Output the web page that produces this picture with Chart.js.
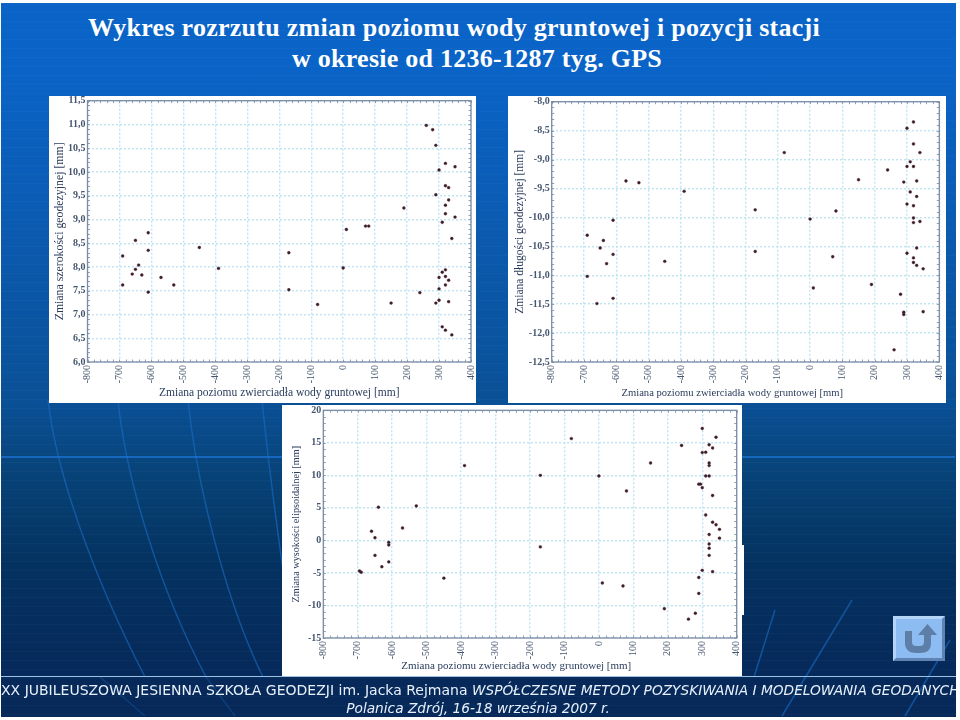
<!DOCTYPE html>
<html lang="pl">
<head>
<meta charset="utf-8">
<title>Wykres rozrzutu</title>
<script src="https://cdn.jsdelivr.net/npm/chart.js@4"></script>
<style>
html,body{margin:0;padding:0;background:#fff;width:960px;height:720px;overflow:hidden}
#slide{position:absolute;left:1px;top:3px;width:955px;height:714px;overflow:hidden;
 background:linear-gradient(180deg,#0a63c6 0,#0a63c6 70px,#0b5cb4 200px,#0a5096 400px,#074378 470px,#043260 560px,#06295a 680px,#06295a 714px)}
#stripes{position:absolute;left:0;top:0;width:955px;height:714px;
 background:repeating-linear-gradient(180deg,rgba(255,255,255,.025) 0,rgba(255,255,255,.025) 1px,rgba(0,0,0,0) 1px,rgba(0,0,0,0) 9px)}
svg{position:absolute;left:0;top:0}
.abs{position:absolute}
h1{position:absolute;margin:0;color:#fff;font:700 26px/31px "Liberation Serif",serif;white-space:nowrap}
.panel{position:absolute;background:#fff}
.panel canvas{display:block;filter:blur(.45px)}
.foot{position:absolute;color:#e8f1fb;font:14px/18px "DejaVu Sans",sans-serif;white-space:nowrap}
.foot i{font-size:13.72px}
</style>
</head>
<body>
<div id="slide">
 <div id="stripes"></div>
 <svg width="955" height="714" viewBox="1 3 955 714" fill="none" stroke="#1b6cc4" stroke-opacity=".6" stroke-width="1.5">
  <path d="M48 400 C56 470 90 570 145 677"/>
  <path d="M118 400 C126 480 160 590 206 677"/>
  <path d="M188 400 C196 480 225 600 263 677"/>
  <path d="M262 400 C268 460 276 520 283 570"/>
  <path d="M775 610 L754 677"/>
  <path d="M852 600 L782 716"/>
  <path d="M950 640 L905 716"/>
  <path d="M100 677 L145 716" stroke-opacity=".3"/>
  <path d="M206 677 L235 716" stroke-opacity=".3"/>
  <path d="M0 457 L955 457" stroke="#1f78de" stroke-opacity=".9"/>
 </svg>
</div>

<h1 id="t1" style="left:88px;top:12px">Wykres rozrzutu zmian poziomu wody gruntowej i pozycji stacji</h1>
<h1 id="t2" style="left:292px;top:43px">w okresie od 1236-1287 tyg. GPS</h1>

<div class="panel" style="left:49px;top:96px;width:427px;height:307px"><canvas id="c1" width="427" height="307"></canvas></div>
<div class="panel" style="left:508px;top:96px;width:438px;height:307px"><canvas id="c2" width="438" height="307"></canvas></div>
<div class="panel" style="left:282px;top:405px;width:460px;height:271px"><canvas id="c3" width="460" height="271"></canvas></div>
<div class="panel" style="left:742px;top:545px;width:2px;height:70px"></div>

<div class="abs" style="left:1px;top:676px;width:955px;height:1px;background:#9dc3e6"></div>

<svg class="abs" style="left:892px;top:615px" width="54" height="47" viewBox="0 0 54 47">
 <rect x="1" y="1" width="52" height="45" fill="#8dbcf2"/>
 <path d="M1 1H53L50 4H4V43L1 46Z" fill="#b5d5f8"/>
 <path d="M53 1V46H1L4 43H50V4Z" fill="#5f84b4"/>
 <path d="M13 16V28C13 35 18 38 24 38H28C35 38 39 35 39 28V20H45L35.5 9L26 20H32V27C32 30 30 31 28 31H24C22 31 20 30 20 27V16Z" fill="#5d7ea6"/>
</svg>

<div class="foot" style="left:1px;top:681px;width:955px;overflow:hidden">XX JUBILEUSZOWA JESIENNA SZKOŁA GEODEZJI im. Jacka Rejmana <i>WSPÓŁCZESNE METODY POZYSKIWANIA I MODELOWANIA GEODANYCH</i></div>
<div class="foot" style="left:0;top:699px;width:956px;text-align:center"><i>Polanica Zdrój, 16-18 września 2007 r.</i></div>

<script>
const xAxisTitle = "Zmiana poziomu zwierciadła wody gruntowej [mm]";
const c1Title = "Zmiana szerokości geodezyjnej [mm]";
const c2Title = "Zmiana długości geodezyjnej [mm]";
const c3Title = "Zmiana wysokości elipsoidalnej [mm]";

const c1X = [-610,-650,-610,-690,-640,-650,-660,-630,-570,-690,-530,-610,-450,-390,
  260,280,290,320,350,300,320,330,290,330,320,320,350,310,190,340,10,70,80,-170,0,-170,-80,150,240,
  320,310,320,300,330,320,300,300,290,330,310,320,340];
const c1Y = [8.72,8.56,8.35,8.23,8.04,7.95,7.85,7.83,7.78,7.62,7.62,7.47,8.41,7.97,
  10.98,10.89,10.56,10.18,10.11,10.04,9.71,9.67,9.52,9.41,9.30,9.12,9.05,8.94,9.24,8.60,8.79,8.86,8.86,8.30,7.98,7.52,7.21,7.24,7.46,
  7.94,7.89,7.80,7.78,7.72,7.62,7.54,7.30,7.24,7.27,6.74,6.67,6.57];

const c2X = [-570,-530,-390,-610,-690,-640,-650,-610,-630,-450,-690,-610,-660,
  320,300,320,340,-80,310,300,320,240,150,290,330,310,330,300,320,-170,80,0,320,320,340,
  330,300,320,320,330,350,-170,70,10,190,280,290,290,350,260];
const c2Y = [-9.37,-9.40,-9.55,-10.05,-10.31,-10.40,-10.53,-10.64,-10.80,-10.76,-11.02,-11.40,-11.49,
  -8.35,-8.46,-8.73,-8.88,-8.88,-9.04,-9.12,-9.12,-9.18,-9.35,-9.39,-9.37,-9.56,-9.64,-9.77,-9.80,-9.87,-9.89,-10.03,-10.01,-10.09,-10.07,
  -10.53,-10.62,-10.70,-10.78,-10.83,-10.89,-10.59,-10.68,-11.22,-11.16,-11.33,-11.64,-11.68,-11.63,-12.29];

const c3X = [-390,-640,-530,-570,-660,-650,-610,-610,-650,-610,-630,-695,-690,-450,
  300,340,320,330,240,300,310,-80,150,320,320,310,320,-170,0,290,295,300,80,330,
  310,330,340,350,320,350,320,320,320,-170,300,330,290,10,70,290,190,280,260];
const c3Y = [11.5,5.1,5.3,1.9,1.4,0.4,-0.3,-0.7,-2.3,-3.3,-4.05,-4.7,-4.9,-5.8,
  17.2,15.85,14.7,14.2,14.6,13.5,13.55,15.65,11.9,11.9,11.5,9.9,9.9,10,9.9,8.65,8.65,8.1,7.6,6.9,
  3.9,2.8,2.4,1.7,0.9,0.35,-0.55,-1.2,-2.3,-1,-4.6,-4.8,-5.7,-6.55,-7,-8.15,-10.5,-11.2,-12.1];

// title lines are stretched to the width they have in the reference
function fitTitle(id, w){
  const el=document.getElementById(id), n=el.textContent.length;
  el.style.letterSpacing=((w-el.getBoundingClientRect().width)/n)+'px';
}
fitTitle('t1',732); fitTitle('t2',370);

const SERIF = '"Liberation Serif",serif';
const INK = '#46566f', TITLEINK = '#2a3c5c', GRID = '#bfe4f1', FRAME = '#7c8ba5';

const framePlugin = {
  id:'frame',
  beforeDatasetsDraw(chart, args, opts){
    const {ctx, chartArea:a, scales:{x,y}} = chart;
    ctx.save();
    ctx.strokeStyle = '#93a1b6'; ctx.lineWidth = 1; ctx.beginPath();
    for(let v=y.min; v<=y.max+1e-6; v+=opts.yMinor){
      const p=Math.round(y.getPixelForValue(v))+.5;
      ctx.moveTo(a.left,p);ctx.lineTo(a.left+2.5,p);ctx.moveTo(a.right,p);ctx.lineTo(a.right-2.5,p);
    }
    for(let v=x.min; v<=x.max+1e-6; v+=opts.xMinor){
      const p=Math.round(x.getPixelForValue(v))+.5;
      ctx.moveTo(p,a.top);ctx.lineTo(p,a.top+2.5);ctx.moveTo(p,a.bottom);ctx.lineTo(p,a.bottom-2.5);
    }
    ctx.stroke();
    ctx.strokeStyle = FRAME; ctx.lineWidth = 1.3;
    ctx.strokeRect(a.left,a.top,a.right-a.left,a.bottom-a.top);
    ctx.restore();
  }
};

function makeChart(id, xs, ys, cfg){
  const data = xs.map((v,i)=>({x:v,y:ys[i]}));
  new Chart(document.getElementById(id),{
    type:'scatter',
    data:{datasets:[{data,backgroundColor:'#33202b',borderColor:'#5a1f2c',borderWidth:.4,pointRadius:1.45,pointHoverRadius:1.45}]},
    plugins:[framePlugin],
    options:{
      responsive:false,animation:false,
      layout:{padding:{left:0,top:cfg.top,right:cfg.right,bottom:0}},
      plugins:{legend:{display:false},tooltip:{enabled:false},
        frame:{xMinor:20,yMinor:cfg.yMinor}},
      scales:{
        x:{type:'linear',min:-800,max:400,
          afterFit(s){s.height=cfg.xH;s.paddingLeft=0;s.paddingRight=0},
          grid:{color:GRID,lineWidth:1.4,tickLength:2,tickColor:'#ffffff00'},
          border:{dash:[2,2],display:false},
          ticks:{stepSize:100,minRotation:90,maxRotation:90,padding:1,color:INK,font:{family:SERIF,size:10}},
          title:{display:true,text:xAxisTitle+'\u00a0'.repeat(cfg.xShift),color:TITLEINK,padding:{top:0,bottom:cfg.xTitleB},font:{family:SERIF,size:cfg.xFont,weight:'normal'}}
        },
        y:{type:'linear',min:cfg.yMin,max:cfg.yMax,
          afterFit(s){s.width=cfg.left;s.paddingTop=0;s.paddingBottom=0},
          grid:{color:GRID,lineWidth:1.4,tickLength:2,tickColor:'#ffffff00'},
          border:{dash:[2,2],display:false},
          ticks:{stepSize:cfg.yStep,padding:0,color:INK,font:{family:SERIF,size:10,weight:'bold'},
            callback:v=>cfg.yStep<1?v.toFixed(1).replace('.',','):String(v)},
          title:{display:true,text:cfg.yTitle,color:TITLEINK,padding:{top:cfg.yTitleL,bottom:0},font:{family:SERIF,size:cfg.yFont,weight:'normal'}}
        }
      }
    }
  });
}

makeChart('c1',c1X,c1Y,{left:38.5,top:4.7,right:5,xH:41,xTitleB:3,xFont:11.5,xShift:0,yFont:11.8,yMin:6,yMax:11.5,yStep:.5,yMinor:.1,yTitle:c1Title,yTitleL:4});
makeChart('c2',c2X,c2Y,{left:43.7,top:5.7,right:6.7,xH:41,xTitleB:3,xFont:10.6,xShift:10,yFont:11.5,yMin:-12.5,yMax:-8,yStep:.5,yMinor:.1,yTitle:c2Title,yTitleL:5});
makeChart('c3',c3X,c3Y,{left:41.3,top:5.3,right:5.3,xH:38,xTitleB:3,xFont:11,xShift:10,yFont:10.2,yMin:-15,yMax:20,yStep:5,yMinor:1,yTitle:c3Title,yTitleL:8});
</script>
</body>
</html>
